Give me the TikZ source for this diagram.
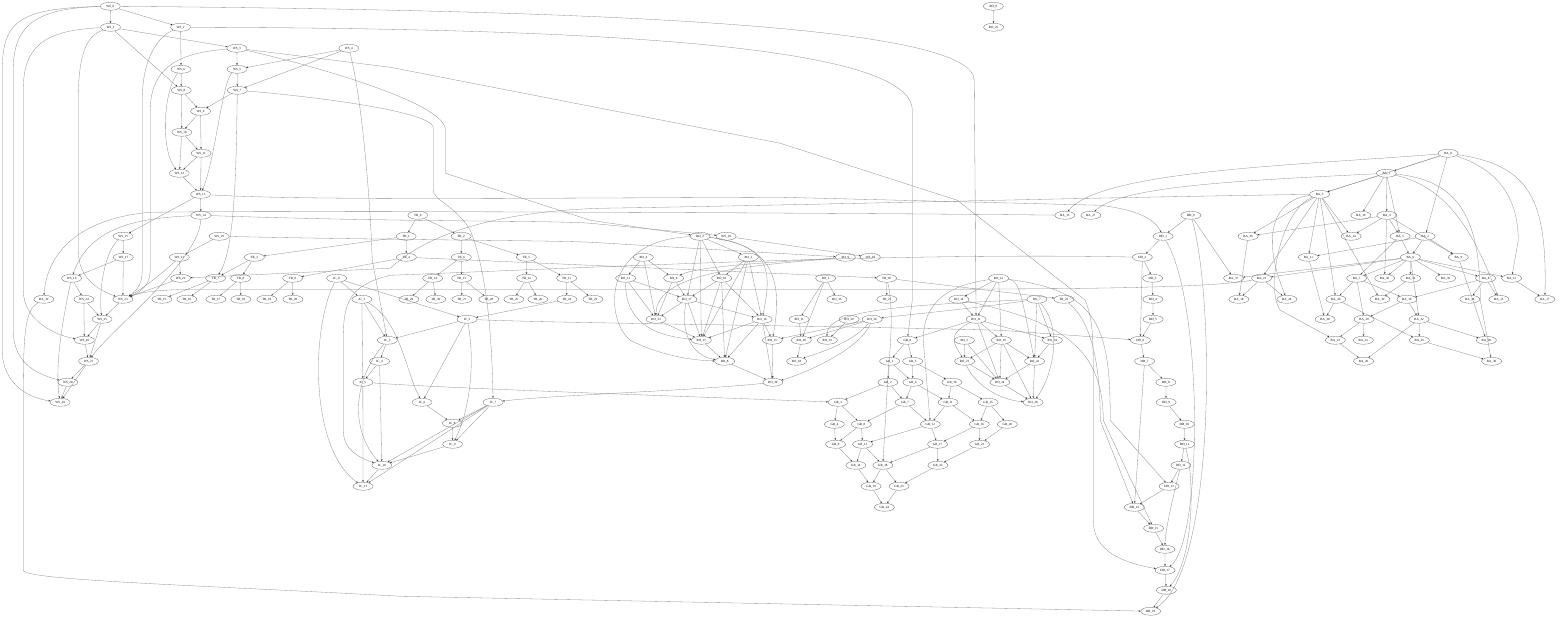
\documentclass[tikz,border=0pt]{standalone}
\usepackage{fontspec}
\setmainfont{Liberation Serif}
\usetikzlibrary{shapes.geometric,arrows.meta}
\begin{document}
\begin{tikzpicture}[x=1pt,y=-1pt,
 n/.style={ellipse,draw=black!60,line width=0.3pt,minimum width=20pt,minimum height=8pt,inner sep=0pt,font=\fontsize{3.2}{3.6}\selectfont},
 e/.style={draw=black!45,line width=0.3pt,-{Stealth[length=1.9pt,width=1.6pt,color=black!80]}}]
\useasboundingbox[fill=white] (0,0) rectangle (1560,618);
\newcommand\gnode[3]{\node[n] (#1) at ({#2+0.012*#3},#3) {\detokenize{#1}};}
\begin{scope}[xshift=0.25pt,yshift=-0.25pt]
% WS
\gnode{WS_0}{110}{6}\gnode{WS_1}{110}{27}\gnode{WS_2}{180}{27}\gnode{WS_3}{236}{48}\gnode{WS_4}{348}{48}
\gnode{WS_6}{180}{69}\gnode{WS_5}{236}{69}\gnode{WS_8}{180}{90}\gnode{WS_7}{236}{90}\gnode{WS_9}{199}{111}
\gnode{WS_10}{180}{132}\gnode{WS_11}{199}{153}\gnode{WS_12}{177}{173}\gnode{WS_13}{198}{194}\gnode{WS_14}{198}{215}
\gnode{WS_15}{120}{236}\gnode{WS_19}{216}{236}\gnode{WS_17}{120}{257}\gnode{WS_21}{176}{257}\gnode{WS_16}{68}{278}
\gnode{WS_22}{177}{278}\gnode{BA_32}{40}{299}\gnode{WS_24}{80}{299}\gnode{WS_23}{119}{299}\gnode{WS_25}{98}{319}
\gnode{WS_26}{80}{340}\gnode{WS_27}{84}{361}\gnode{WS_28}{63}{382}\gnode{WS_29}{55}{402}
\gnode{WS_18}{723}{236}\gnode{WS_20}{867}{257}
% TR
\gnode{TR_0}{415}{215}\gnode{TR_1}{403}{236}\gnode{TR_2}{458}{236}\gnode{TR_4}{403}{257}\gnode{TR_6}{458}{257}
\gnode{TR_5}{523}{257}\gnode{TR_3}{251}{257}\gnode{TR_7}{212}{278}\gnode{TR_8}{237}{278}\gnode{TR_9}{289}{278}
\gnode{TR_14}{429}{278}\gnode{TR_13}{458}{278}\gnode{TR_12}{523}{278}\gnode{TR_11}{563}{278}\gnode{TR_10}{883}{278}
\gnode{TR_15}{158}{299}\gnode{TR_16}{183}{299}\gnode{TR_17}{212}{299}\gnode{TR_18}{237}{299}\gnode{TR_19}{263}{299}
\gnode{TR_20}{289}{299}\gnode{TR_29}{405}{299}\gnode{TR_30}{432}{299}\gnode{TR_27}{458}{299}\gnode{TR_28}{485}{299}
\gnode{TR_25}{510}{299}\gnode{TR_26}{534}{299}\gnode{TR_24}{563}{299}\gnode{TR_23}{589}{299}\gnode{TR_21}{883}{299}
\gnode{TR_22}{1060}{299}
% IC
\gnode{IC_0}{333}{278}\gnode{IC_1}{358}{299}\gnode{IC_2}{463}{319}\gnode{IC_3}{383}{340}\gnode{IC_4}{375}{361}
\gnode{IC_5}{358}{382}\gnode{IC_6}{417}{402}\gnode{IC_7}{488}{402}\gnode{IC_8}{447}{423}\gnode{IC_9}{447}{444}
\gnode{IC_10}{376}{465}\gnode{IC_11}{357}{486}
% RO
\gnode{RO_0}{993}{6}\gnode{RO_25}{993}{27}
\gnode{RO_2}{697}{236}\gnode{RO_4}{640}{257}\gnode{RO_3}{745}{257}\gnode{RO_9}{842}{257}
\gnode{RO_13}{622}{278}\gnode{RO_6}{670}{278}\gnode{RO_10}{718}{278}\gnode{RO_1}{822}{278}\gnode{RO_12}{995}{278}
\gnode{RO_17}{683}{299}\gnode{RO_33}{833}{299}\gnode{RO_14}{955}{299}\gnode{RO_7}{1033}{299}
\gnode{RO_23}{652}{319}\gnode{RO_16}{758}{319}\gnode{RO_11}{795}{319}\gnode{RO_29}{845}{319}\gnode{RO_26}{868}{319}\gnode{RO_31}{972}{319}
\gnode{RO_27}{697}{340}\gnode{RO_15}{768}{340}\gnode{RO_20}{797}{340}\gnode{RO_32}{823}{340}\gnode{RO_5}{960}{340}\gnode{RO_19}{997}{340}\gnode{RO_34}{1048}{340}
\gnode{RO_8}{720}{361}\gnode{RO_18}{792}{361}\gnode{RO_21}{960}{361}\gnode{RO_22}{1030}{361}
\gnode{RO_30}{768}{382}\gnode{RO_24}{995}{382}\gnode{RO_28}{1028}{402}
% GR
\gnode{GR_0}{903}{340}\gnode{GR_1}{885}{361}\gnode{GR_5}{908}{361}\gnode{GR_2}{883}{382}\gnode{GR_6}{908}{382}
\gnode{GR_10}{947}{382}\gnode{GR_3}{833}{402}\gnode{GR_7}{900}{402}\gnode{GR_11}{943}{402}\gnode{GR_15}{983}{402}
\gnode{GR_4}{829}{424}\gnode{GR_8}{856}{424}\gnode{GR_12}{925}{424}\gnode{GR_16}{974}{424}\gnode{GR_20}{1002}{424}
\gnode{GR_9}{830}{444}\gnode{GR_13}{857}{444}\gnode{GR_17}{932}{444}\gnode{GR_21}{974}{444}
\gnode{GR_14}{850}{465}\gnode{GR_18}{877}{465}\gnode{GR_22}{932}{465}\gnode{GR_19}{865}{486}\gnode{GR_23}{893}{486}
\gnode{GR_24}{878}{507}
% DD
\gnode{DD_0}{1188}{215}\gnode{DD_1}{1160}{236}\gnode{DD_2}{1139}{257}\gnode{DD_3}{1149}{278}\gnode{DD_4}{1149}{299}
\gnode{DD_5}{1149}{319}\gnode{DD_6}{1136}{340}\gnode{DD_7}{1140}{361}\gnode{DD_8}{1161}{382}\gnode{DD_9}{1161}{402}
\gnode{DD_10}{1179}{424}\gnode{DD_11}{1179}{444}\gnode{DD_12}{1175}{465}\gnode{DD_13}{1163}{486}\gnode{DD_14}{1128}{507}
\gnode{DD_15}{1147}{528}\gnode{DD_16}{1158}{549}\gnode{DD_17}{1158}{570}\gnode{DD_18}{1159}{590}\gnode{DD_19}{1143}{611}
% BA
\gnode{BA_0}{1446}{153}\gnode{BA_1}{1384}{173}\gnode{BA_3}{1317}{194}
\gnode{BA_13}{1062}{215}\gnode{BA_27}{1088}{215}\gnode{BA_19}{1358}{215}\gnode{BA_4}{1384}{215}
\gnode{BA_16}{1245}{236}\gnode{BA_14}{1348}{236}\gnode{BA_5}{1397}{236}\gnode{BA_2}{1422}{236}
\gnode{BA_11}{1305}{257}\gnode{BA_6}{1407}{257}\gnode{BA_9}{1455}{257}
\gnode{BA_37}{1230}{278}\gnode{BA_21}{1258}{278}\gnode{BA_7}{1353}{278}\gnode{BA_36}{1381}{278}\gnode{BA_33}{1407}{278}
\gnode{BA_35}{1442}{278}\gnode{BA_8}{1482}{278}\gnode{BA_12}{1508}{278}
\gnode{BA_18}{1235}{299}\gnode{BA_24}{1283}{299}\gnode{BA_20}{1332}{299}\gnode{BA_39}{1376}{299}\gnode{BA_10}{1403}{299}
\gnode{BA_34}{1466}{299}\gnode{BA_15}{1495}{299}\gnode{BA_17}{1541}{299}
\gnode{BA_38}{1321}{319}\gnode{BA_29}{1360}{319}\gnode{BA_22}{1415}{319}
\gnode{BA_23}{1331}{340}\gnode{BA_31}{1359}{340}\gnode{BA_25}{1415}{340}\gnode{BA_28}{1482}{340}
\gnode{BA_26}{1359}{361}\gnode{BA_30}{1487}{361}
% straight edges
\foreach \a/\b in {WS_0/WS_1,WS_0/WS_2,WS_1/WS_3,WS_1/WS_8,WS_2/WS_6,WS_3/WS_5,WS_4/WS_5,WS_4/WS_7,WS_5/WS_7,WS_6/WS_8,
 WS_7/WS_9,WS_8/WS_9,WS_8/WS_10,WS_9/WS_10,WS_9/WS_11,WS_10/WS_11,WS_10/WS_12,WS_11/WS_12,WS_11/WS_13,WS_12/WS_13,
 WS_13/WS_14,WS_13/WS_15,WS_15/WS_17,WS_17/WS_16,WS_17/WS_23,WS_19/WS_21,WS_21/WS_22,WS_22/WS_23,WS_16/WS_24,
 WS_24/WS_26,WS_24/WS_25,WS_23/WS_25,WS_25/WS_26,WS_25/WS_27,WS_26/WS_27,WS_27/WS_28,WS_27/WS_29,WS_28/WS_29,
 WS_18/WS_20,
 TR_0/TR_1,TR_0/TR_2,TR_1/TR_3,TR_1/TR_4,TR_2/TR_5,TR_2/TR_6,TR_3/TR_7,TR_3/TR_8,TR_4/TR_9,TR_4/TR_10,TR_5/TR_11,TR_5/TR_12,
 TR_6/TR_13,TR_6/TR_14,TR_7/TR_15,TR_7/TR_16,TR_8/TR_17,TR_8/TR_18,TR_9/TR_19,TR_9/TR_20,TR_10/TR_21,TR_10/TR_22,
 TR_11/TR_23,TR_11/TR_24,TR_12/TR_25,TR_12/TR_26,TR_13/TR_27,TR_13/TR_28,TR_14/TR_29,TR_14/TR_30,TR_24/IC_2,
 IC_0/IC_1,IC_0/IC_2,IC_1/IC_3,IC_1/IC_5,IC_2/IC_3,IC_3/IC_4,IC_4/IC_5,IC_4/IC_10,IC_5/IC_11,IC_2/IC_6,IC_6/IC_8,
 IC_7/IC_8,IC_7/IC_9,IC_7/IC_10,IC_7/IC_11,IC_8/IC_9,IC_9/IC_10,IC_10/IC_11,
 RO_0/RO_25,RO_2/RO_3,RO_2/RO_10,RO_2/RO_17,RO_2/RO_27,RO_4/RO_13,RO_4/RO_6,RO_4/RO_23,RO_3/RO_10,
 RO_3/RO_27,RO_3/RO_8,RO_3/RO_16,RO_13/RO_17,RO_13/RO_23,RO_6/RO_17,RO_6/RO_23,RO_10/RO_17,RO_10/RO_27,RO_10/RO_8,
 RO_10/RO_16,RO_17/RO_23,RO_17/RO_27,RO_17/RO_16,RO_23/RO_27,RO_16/RO_27,RO_16/RO_8,RO_16/RO_15,RO_16/RO_30,
 RO_27/RO_8,RO_15/RO_30,RO_8/RO_30,
 RO_1/RO_11,RO_1/RO_33,RO_1/RO_20,RO_11/RO_20,RO_20/RO_18,RO_29/RO_32,RO_26/RO_20,RO_26/RO_15,
 RO_12/RO_14,RO_12/RO_31,RO_12/RO_19,RO_14/RO_31,RO_31/GR_0,RO_31/RO_24,RO_31/RO_19,RO_31/RO_34,RO_7/RO_34,RO_7/RO_22,
 RO_5/RO_21,RO_5/RO_24,RO_19/RO_21,RO_19/RO_24,RO_19/RO_22,RO_19/RO_28,RO_34/RO_22,RO_21/RO_24,RO_22/RO_24,
 RO_24/RO_28,RO_22/RO_28,
 GR_0/GR_1,GR_0/GR_5,GR_1/GR_2,GR_1/GR_6,GR_5/GR_6,GR_5/GR_10,GR_2/GR_3,GR_2/GR_7,GR_6/GR_7,GR_6/GR_11,GR_10/GR_11,
 GR_10/GR_15,GR_3/GR_4,GR_3/GR_8,GR_7/GR_8,GR_7/GR_12,GR_11/GR_12,GR_11/GR_16,GR_15/GR_16,GR_15/GR_20,GR_4/GR_9,
 GR_8/GR_9,GR_8/GR_13,GR_12/GR_13,GR_12/GR_17,GR_16/GR_17,GR_16/GR_21,GR_20/GR_21,GR_9/GR_14,GR_13/GR_14,GR_13/GR_18,
 GR_17/GR_18,GR_17/GR_22,GR_21/GR_22,GR_14/GR_19,GR_18/GR_19,GR_18/GR_23,GR_22/GR_23,GR_19/GR_24,GR_23/GR_24,
 DD_0/DD_1,DD_1/DD_2,DD_2/DD_3,DD_3/DD_4,DD_4/DD_5,DD_5/DD_6,DD_2/DD_6,DD_6/DD_7,DD_7/DD_8,DD_8/DD_9,DD_9/DD_10,DD_10/DD_11,
 DD_11/DD_12,DD_12/DD_13,DD_13/DD_14,DD_14/DD_15,DD_15/DD_16,DD_16/DD_17,DD_17/DD_18,DD_18/DD_19,DD_7/DD_14,DD_0/BA_37,
 BA_0/BA_1,BA_0/BA_3,BA_0/BA_2,BA_1/BA_3,BA_1/BA_4,BA_1/BA_19,BA_1/BA_5,BA_3/BA_16,BA_3/BA_14,BA_3/BA_11,BA_3/BA_21,
 BA_3/BA_20,BA_3/BA_39,
 BA_4/BA_16,BA_4/BA_14,BA_4/BA_5,BA_4/BA_36,BA_4/BA_9,BA_5/BA_6,BA_5/BA_7,BA_2/BA_6,BA_2/BA_9,BA_2/BA_11,
 BA_6/BA_37,BA_6/BA_21,BA_6/BA_7,BA_6/BA_36,BA_6/BA_33,BA_6/BA_35,BA_6/BA_8,BA_6/BA_12,BA_6/BA_22,
 BA_16/BA_18,BA_21/BA_18,BA_21/BA_24,BA_7/BA_20,BA_7/BA_29,BA_7/BA_10,BA_33/BA_39,BA_8/BA_10,BA_8/BA_34,BA_8/BA_15,
 BA_12/BA_17,BA_20/BA_38,BA_20/BA_25,BA_10/BA_29,BA_10/BA_22,BA_29/BA_23,BA_29/BA_31,BA_22/BA_25,BA_22/BA_26,
 BA_22/BA_28,BA_23/BA_26,BA_25/BA_30,BA_11/BA_38,BA_9/BA_28}
 \draw[e] (\a) -- (\b);
% curved / long edges
\draw[e] (WS_0) .. controls (20,8) and (2,20) .. (2,70) -- (2,350) .. controls (2,385) and (30,398) .. (WS_29);
\draw[e] (WS_0) .. controls (35,8) and (13,25) .. (13,70) -- (13,330) .. controls (13,365) and (40,375) .. (WS_28);
\draw[e] (WS_1) .. controls (45,30) and (23,45) .. (23,90) -- (23,290) .. controls (23,320) and (55,335) .. (WS_26);
\draw[e] (WS_1) .. controls (88,35) and (78,50) .. (78,100) -- (78,250) .. controls (78,280) and (100,290) .. (WS_23);
\draw[e] (WS_2) .. controls (160,35) and (142,55) .. (142,100) -- (142,270) .. controls (142,285) and (135,292) .. (WS_23);
\draw[e] (WS_3) .. controls (190,52) and (150,60) .. (150,110) -- (150,270) .. controls (150,285) and (140,292) .. (WS_23);
\draw[e] (WS_6) .. controls (163,90) and (160,150) .. (WS_12);
\draw[e] (WS_5) .. controls (222,80) and (215,160) .. (WS_13);
\draw[e] (WS_14) .. controls (140,218) and (90,225) .. (WS_16);
\draw[e] (WS_14) .. controls (200,260) and (110,330) .. (WS_27);
\draw[e] (WS_15) .. controls (105,250) and (98,290) .. (WS_25);
\draw[e] (WS_21) .. controls (160,275) and (140,290) .. (WS_23);
\draw[e] (WS_16) .. controls (60,330) and (55,370) .. (WS_29);
\draw[e] (WS_7) .. controls (236,150) and (236,250) .. (TR_7);
\draw[e] (WS_4) .. controls (362,100) and (370,200) .. (372,260) -- (IC_3);
\draw[e] (WS_0) .. controls (600,10) and (974,25) .. (974,80) -- (RO_31);
\draw[e] (WS_2) .. controls (600,28) and (912,45) .. (912,110) -- (912,300) -- (GR_0);
\draw[e] (WS_3) -- (390,67) -- (780,143) -- (957,200) -- (1085,300) .. controls (1093,320) and (1093,340) .. (1093,380) -- (1093,520) .. controls (1093,550) and (1120,562) .. (DD_17);
\draw[e] (WS_3) .. controls (300,62) and (440,100) .. (445,128) -- (445,173) -- (590,220) -- (RO_2);
\draw[e] (WS_7) .. controls (300,95) and (430,110) .. (433,127) -- (433,190) .. controls (433,200) and (455,205) .. (470,230) .. controls (490,280) and (492,360) .. (IC_7);
\draw[e] (WS_13) .. controls (300,200) and (500,198) .. (780,197) -- (1100,205) .. controls (1140,210) and (1155,220) .. (DD_1);
\draw[e] (WS_14) .. controls (400,222) and (550,220) .. (590,223) -- (WS_18);
\draw[e] (WS_19) .. controls (400,240) and (550,240) .. (590,242) -- (RO_9);
\draw[e] (BA_21) .. controls (1200,290) and (1000,289) .. (700,289) -- (200,289) .. controls (160,289) and (140,292) .. (WS_23);
\draw[e] (BA_3) .. controls (1100,197) and (800,205) .. (600,208) .. controls (480,212) and (420,240) .. (390,268) -- (WS_22);
\draw[e] (BA_0) .. controls (1300,165) and (1100,170) .. (BA_13);
\draw[e] (BA_1) .. controls (1250,180) and (1120,185) .. (BA_27);
\draw[e] (BA_0) .. controls (1530,165) and (1547,200) .. (BA_17);
\draw[e] (BA_0) .. controls (1500,170) and (1518,200) .. (1518,240) -- (BA_12);
\draw[e] (BA_1) .. controls (1460,180) and (1480,220) .. (1480,300) -- (BA_30);
\draw[e] (BA_1) .. controls (1440,185) and (1470,220) .. (BA_15);
\draw[e] (BA_3) .. controls (1270,200) and (1262,240) .. (BA_24);
\draw[e] (BA_3) .. controls (1280,210) and (1265,290) .. (1280,310) -- (BA_23);
\draw[e] (BA_13) .. controls (900,213) and (300,210) .. (150,212) .. controls (60,220) and (45,270) .. (BA_32);
\draw[e] (IC_0) .. controls (310,330) and (310,450) .. (IC_11);
\draw[e] (IC_3) .. controls (352,380) and (350,430) .. (IC_10);
\draw[e] (IC_1) .. controls (400,320) and (405,370) .. (IC_6);
\draw[e] (IC_2) .. controls (475,360) and (470,410) .. (IC_9);
\draw[e] (IC_5) .. controls (450,388) and (600,393) .. (GR_3);
\draw[e] (IC_2) .. controls (560,323) and (800,325) .. (1000,330) -- (DD_6);
\draw[e] (DD_2) .. controls (900,252) and (600,267) .. (390,275) .. controls (350,285) and (343,300) .. (343,340) -- (343,430) .. controls (343,450) and (360,458) .. (IC_10);
\draw[e] (RO_2) .. controls (600,240) and (605,320) .. (630,340) .. controls (660,355) and (690,360) .. (RO_8);
\draw[e] (RO_2) .. controls (770,245) and (772,270) .. (RO_16);
\draw[e] (RO_2) .. controls (780,245) and (781,290) .. (RO_15);
\draw[e] (RO_13) .. controls (625,320) and (650,335) .. (RO_27);
\draw[e] (RO_17) .. controls (680,330) and (690,355) .. (RO_8);
\draw[e] (RO_9) .. controls (780,262) and (700,265) .. (RO_6);
\draw[e] (RO_9) .. controls (760,265) and (655,270) .. (RO_23);
\draw[e] (RO_7) .. controls (960,310) and (900,315) .. (RO_26);
\draw[e] (RO_7) .. controls (900,305) and (825,310) .. (RO_32);
\draw[e] (RO_26) .. controls (850,345) and (810,355) .. (RO_18);
\draw[e] (RO_26) .. controls (860,350) and (800,375) .. (RO_30);
\draw[e] (RO_12) .. controls (1020,280) and (1022,300) .. (RO_22);
\draw[e] (RO_31) .. controls (945,335) and (955,345) .. (RO_21);
\draw[e] (RO_7) .. controls (1065,330) and (1050,380) .. (RO_28);
\draw[e] (RO_21) .. controls (975,385) and (1000,400) .. (RO_28);
\draw[e] (RO_12) .. controls (950,285) and (923,300) .. (923,340) -- (GR_12);
\draw[e] (RO_30) .. controls (700,390) and (550,395) .. (IC_7);
\draw[e] (TR_10) .. controls (892,300) and (892,330) .. (888,370) -- (GR_18);
\draw[e] (TR_22) .. controls (1090,320) and (1100,360) .. (1100,420) -- (DD_14);
\draw[e] (RO_14) .. controls (1050,320) and (1103,340) .. (1103,420) -- (DD_15);
\draw[e] (RO_12) .. controls (1100,290) and (1110,330) .. (1110,420) -- (DD_13);
\draw[e] (BA_32) .. controls (25,310) and (23,330) .. (23,400) -- (23,570) .. controls (23,580) and (200,585) .. (400,596) -- (1000,608) -- (DD_19);
\draw[e] (DD_0) .. controls (1215,300) and (1215,570) .. (DD_19);
\draw[e] (DD_1) .. controls (1203,300) and (1203,540) .. (DD_17);
\draw[e] (DD_11) .. controls (1195,480) and (1193,560) .. (DD_18);
\draw[e] (DD_12) .. controls (1172,500) and (1165,530) .. (DD_16);
\end{scope}
\end{tikzpicture}
\end{document}
